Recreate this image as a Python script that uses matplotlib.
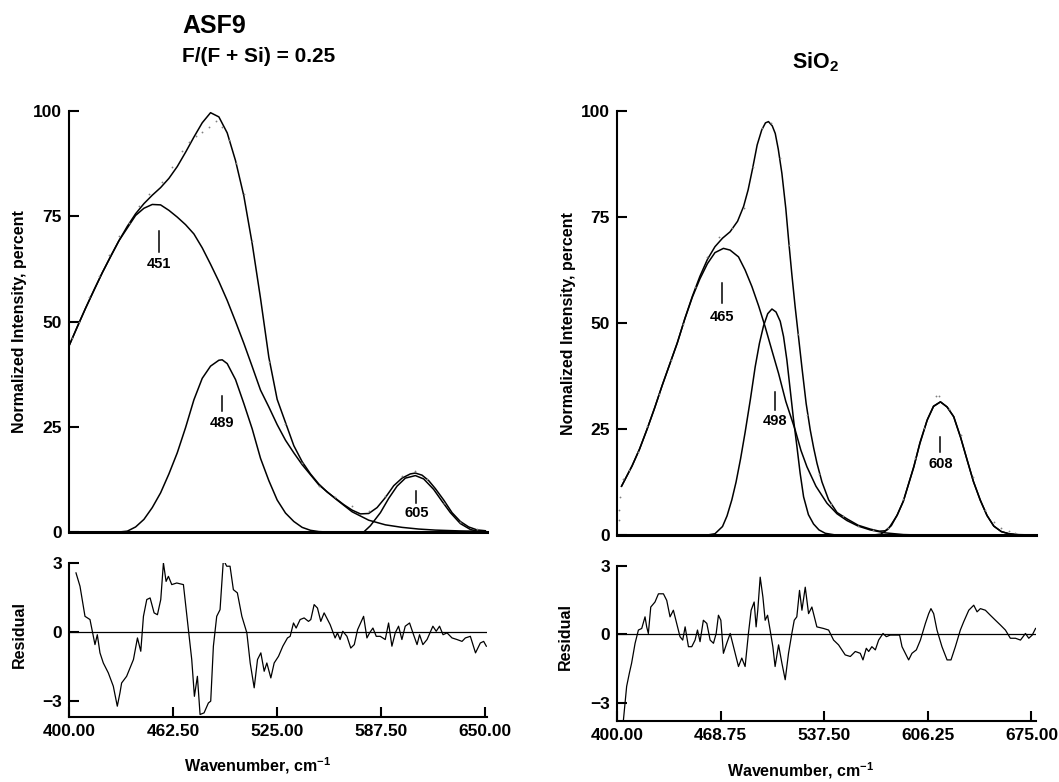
import numpy as np
import matplotlib.pyplot as plt

plt.rcParams['font.family'] = ['Liberation Sans', 'DejaVu Sans']
plt.rcParams['font.weight'] = 'bold'
plt.rcParams['mathtext.fontset'] = 'custom'
plt.rcParams['mathtext.rm'] = 'Liberation Sans:bold'
plt.rcParams['mathtext.it'] = 'Liberation Sans:bold'
plt.rcParams['mathtext.bf'] = 'Liberation Sans:bold'

# ---- ASF9, F/(F+Si) = 0.25 ----
asf_w_fit = [400, 405, 410, 415, 420, 425, 430, 435, 440, 445, 450, 455, 460, 465, 470, 475, 480, 485, 490, 495,
	500, 505, 510, 515, 520, 525, 530, 535, 540, 545, 550, 555, 560, 565, 570, 575, 580, 585, 590, 595,
	600, 605, 608, 612, 616, 620, 625, 630, 635, 640, 645, 650]
asf_fit = [44.2, 48.8, 53.2, 57.5, 61.6, 65.5, 69.2, 72.6, 75.6, 78, 80, 81.8, 84, 86.8, 90.2, 93.8, 97.2, 99.6, 98.6, 94.8,
	88.2, 79.8, 68.5, 55.5, 41.5, 31.5, 26, 20.5, 16.7, 13.8, 11.4, 9.5, 8.0, 6.5, 5.2, 4.3, 4.4, 5.8, 8.2, 11.0,
	12.8, 13.8, 14.0, 13.5, 12.2, 10.3, 7.6, 4.6, 2.5, 1.2, 0.5, 0.3]

asf_w_451 = [400, 410, 420, 430, 440, 445, 450, 455, 460, 465, 470, 475, 480, 485, 490, 495, 500, 505, 510, 515,
	520, 525, 530, 535, 540, 550, 560, 570, 580, 590, 600, 610, 620, 635, 650]
asf_451 = [44.2, 53.2, 61.6, 69.2, 75.2, 76.9, 77.8, 77.7, 76.4, 74.8, 73.0, 70.8, 67.5, 63.6, 59.5, 55.0, 50.0, 44.8, 39.3, 33.7,
	29.7, 25.5, 21.8, 18.8, 16.0, 11.2, 7.9, 4.8, 2.8, 1.7, 1.1, 0.7, 0.45, 0.25, 0.15]

asf_w_489 = [430, 435, 440, 445, 450, 455, 460, 465, 470, 475, 480, 485, 490, 492, 495, 500, 505, 510, 515, 520,
	525, 530, 535, 540, 545, 550, 555, 650]
asf_489 = [0, 0.2, 1.2, 3.0, 5.8, 9.3, 13.8, 18.8, 24.8, 31.4, 36.5, 39.4, 40.8, 40.9, 40.0, 36.2, 30.5, 24.5, 17.5, 12.2,
	7.6, 4.5, 2.5, 1.1, 0.4, 0.1, 0, 0]

asf_w_605 = [400, 572, 577, 581, 587, 592, 597, 602, 608, 613, 619, 624, 629, 635, 641, 645, 650]
asf_605 = [0, 0, 0, 1.5, 4.6, 8.0, 10.9, 12.8, 13.4, 12.6, 10.1, 7.3, 4.6, 2.0, 0.6, 0.2, 0]

asf_w_obs = [402, 406, 412, 418, 424, 430, 436, 442, 448, 456, 462, 468, 472, 476, 480, 484, 488, 492, 496, 500,
	505, 510, 520, 530, 540, 550, 560, 570, 580, 590, 600, 608, 615, 625, 635, 645]
asf_obs = [46, 49.8, 55.8, 60.8, 65.8, 70.4, 73.4, 77.4, 80.3, 83.2, 86.8, 90.4, 92.6, 94, 95, 96.2, 97.6, 96.2, 93.2, 87.6,
	80.3, 69.2, 40.4, 25.6, 16.4, 11, 8.3, 6.1, 4.9, 8.6, 13.4, 14.6, 12.5, 7.0, 2.4, 0.7]

asf_w_res = [404.2, 406.6, 409.6, 412.6, 414.2, 415.6, 417.0, 418.6, 420.6, 423.6, 426.6, 429.0, 430.6, 431.6, 434.6,
	438.7, 441.1, 443.1, 444.7, 446.7, 448.7, 451.1, 453.1, 455.1, 456.7, 458.3, 459.7, 461.7, 464.7, 468.7,
	469.7, 471.7, 473.7, 475.3, 477.1, 478.7, 481.1, 483.7, 485.1, 486.7, 488.7, 490.7, 492.7, 494.7, 496.7,
	498.7, 501.1, 503.8, 506.8, 508.8, 511.2, 513.2, 515.2, 517.2, 518.8, 521.2, 523.2, 525.8, 528.4, 531.2,
	532.8, 534.8, 536.4, 538.8, 541.2, 543.8, 545.2, 547.2, 549.2, 551.2, 553.2, 556.8, 559.8, 561.2, 562.8,
	564.4, 566.9, 569.2, 571.3, 573.3, 576.9, 578.9, 580.5, 582.5, 584.5, 586.9, 589.9, 591.9, 593.9, 595.9,
	597.9, 599.9, 601.9, 604.5, 606.9, 609.0, 610.5, 612.5, 615.0, 618.5, 620.5, 622.5, 624.6, 627.0, 630.0,
	633.0, 636.0, 638.0, 641.0, 644.1, 647.0, 649.0, 650.6]
asf_res = [2.57, 1.99, 0.68, 0.54, -0.04, -0.55, -0.12, -0.91, -1.35, -1.78, -2.36, -3.23, -2.65, -2.22, -1.93,
	-1.20, -0.26, -0.84, 0.68, 1.41, 1.48, 0.83, 0.75, 1.41, 3.0, 2.2, 2.42, 2.06, 2.13, 2.06,
	1.41, 0.1, -1.2, -2.8, -1.93, -3.59, -3.52, -3.09, -3.01, -0.62, 0.68, 0.97, 3.14, 2.86, 2.86,
	1.84, 1.70, 0.68, -0.04, -1.35, -2.43, -1.20, -0.91, -1.71, -1.35, -2.0, -1.35, -1.06, -0.62, -0.26,
	-0.19, 0.39, 0.17, 0.54, 0.61, 0.46, 0.54, 1.19, 1.04, 0.46, 0.83, 0.32, -0.26, -0.04, -0.33,
	0.03, -0.19, -0.70, -0.55, 0.1, 0.68, -0.26, -0.04, 0.17, -0.19, -0.19, -0.33, 0.39, -0.62, -0.04,
	0.25, -0.33, 0.25, 0.39, -0.12, -0.55, -0.12, -0.55, -0.33, 0.25, 0.03, 0.25, -0.12, -0.04, -0.26,
	-0.33, -0.41, -0.26, -0.19, -0.91, -0.48, -0.41, -0.62]
asf_ticks = [400, 462.5, 525, 587.5, 650]

# ---- SiO2 ----
sio_w_fit = [403, 410, 415, 420, 425, 430, 435, 440, 445, 450, 455, 460, 465, 470, 475, 480, 484, 487, 490, 493,
	496, 498.5, 500.5, 503, 505, 507, 509.4, 512, 514, 516, 518.2, 520.5, 522.7, 525.5, 528.2, 530.5, 532.7, 536,
	540.4, 546, 552.6, 560, 568, 574, 578, 582, 586, 590, 593, 597, 601, 606, 610, 614.6, 619, 623.4, 628,
	632.3, 636.5, 641, 645.5, 650, 655, 660, 665, 677]
sio_fit = [11.5, 16.3, 20.3, 25, 30, 35.3, 40.3, 45.3, 51, 56.3, 61, 65, 68, 70, 71.5, 74, 77.5, 81.4, 86.5, 92,
	95.5, 97.2, 97.5, 96.5, 94.7, 91, 85.3, 77, 69, 61.5, 53.8, 46.5, 39.5, 31, 24.8, 20.5, 16.9, 12.5,
	8.3, 5.3, 3.8, 2.3, 1.4, 0.9, 1.0, 2.2, 4.8, 8, 11.5, 16.1, 21.8, 27.3, 30.4, 31.4, 30.2, 27.9, 23,
	17.7, 12.6, 8.2, 4.6, 2.1, 0.8, 0.3, 0.1, 0]

sio_w_465 = [403, 410, 415, 420, 425, 430, 435, 440, 445, 450, 455, 460, 465, 470.6, 475, 480.6, 485, 489.5, 494, 498.3,
	502.8, 507.2, 512, 518.2, 522, 526, 532, 539.3, 546, 552.6, 560, 568, 578, 590, 600]
sio_465 = [11.5, 16.3, 20.3, 25, 30, 35.3, 40.3, 45.3, 51, 56.1, 60.4, 64, 66.6, 67.6, 67.2, 65.6, 62.5, 58.6, 54, 49.1,
	43.5, 38.1, 31.5, 24.8, 20, 16.1, 11.5, 7.5, 5.0, 3.4, 2.1, 1.2, 0.5, 0.1, 0]

sio_w_498 = [400, 460, 465, 470, 473, 476.2, 479, 482, 485, 488.5, 491.7, 494.5, 497.2, 500, 502.8, 505.5, 508.3, 510.5,
	512.7, 515, 517.1, 519.4, 521.5, 523.8, 527, 530.4, 534, 538.2, 545, 677]
sio_498 = [0, 0, 0.3, 2, 4.5, 8.3, 12.5, 18, 24.2, 32, 39.7, 45.2, 49.3, 52.2, 53.3, 52.6, 50.4, 46.8,
	41.3, 34, 27.3, 20.8, 14.6, 9.0, 4.8, 2.6, 1.2, 0.4, 0, 0]

sio_w_608 = [545, 570, 575, 580, 585.8, 590, 593, 596.8, 601, 605.7, 610, 614.6, 619, 623.4, 628, 632.3, 636.5, 641.1,
	645.5, 650, 655, 660, 668, 677]
sio_608 = [0, 0, 0.2, 1.4, 4.6, 8, 11.5, 16, 21.6, 27, 30.3, 31.4, 30.2, 27.9, 23, 17.7, 12.6, 8.2,
	4.6, 2.1, 0.8, 0.3, 0, 0]

sio_w_obs = [401, 401.5, 402, 404, 408, 414, 420, 428, 436, 444, 452, 460, 468, 476, 484, 490, 496, 502, 508, 514,
	520, 526, 534, 542, 550, 560, 570, 580, 590, 598, 604, 611.5, 613.5, 620, 628, 636, 644, 650, 655, 660, 664]
sio_obs = [3.5, 6, 9, 13.2, 15.4, 19.6, 25.6, 33.2, 41.3, 49.8, 58.6, 65.6, 70.3, 72.3, 77.1, 86.9, 95.9, 97.2, 88.8, 68.4,
	47.4, 28.4, 14.5, 7.3, 4.5, 2.1, 1.1, 1.6, 8.4, 18.2, 25.3, 32.8, 32.8, 29.6, 23.6, 13.6, 5.8, 3.0, 1.7, 0.9, 0.4]

sio_w_res = [404.2, 406.4, 408.2, 409.7, 412.0, 414.2, 416.4, 418.6, 419.7, 420.8, 422.4, 425.2, 427.5, 430.8, 433.0,
	435.2, 437.4, 439.6, 441.8, 443.6, 445.2, 447.4, 449.6, 451.8, 453.4, 455.1, 457.3, 459.6, 461.8, 464.0,
	465.8, 467.3, 468.9, 470.6, 472.8, 475.1, 477.3, 480.6, 482.8, 485.0, 487.2, 489.0, 491.0, 492.3, 493.4,
	495.0, 496.8, 498.3, 499.9, 501.6, 503.4, 504.9, 507.2, 509.4, 511.6, 513.8, 516.0, 517.6, 519.3, 521.1,
	522.7, 524.9, 527.1, 529.3, 532.6, 537.0, 540.4, 543.7, 547.0, 551.4, 554.8, 558.1, 561.4, 563.2, 565.4,
	567.0, 569.1, 571.4, 573.6, 576.5, 578.7, 581.3, 584.6, 587.5, 589.1, 591.3, 593.5, 595.7, 598.6, 601.3,
	604.6, 606.8, 608.3, 610.1, 612.3, 615.6, 619.0, 621.6, 624.5, 627.8, 630.0, 633.4, 636.7, 638.9, 641.1,
	644.4, 647.7, 651.1, 654.4, 657.7, 661.0, 664.4, 667.7, 671.0, 673.2, 675.5, 677.7]
sio_res = [-3.8, -2.28, -1.70, -1.26, -0.39, 0.19, 0.26, 0.77, 0.33, 0.04, 1.20, 1.42, 1.78, 1.78, 1.49,
	0.77, 1.06, 0.48, -0.10, -0.25, 0.33, -0.54, -0.54, -0.25, 0.19, -0.32, 0.62, 0.48, -0.25, -0.39,
	0.04, 0.84, 0.62, -0.83, -0.39, 0.04, -0.54, -1.41, -1.04, -1.41, 0.04, 1.06, 1.42, 0.33, 1.06,
	2.51, 1.64, 0.62, 0.84, 0.19, -0.54, -1.41, -0.46, -1.26, -1.99, -0.83, 0.04, 0.62, 0.77, 1.93,
	1.06, 2.07, 0.91, 1.20, 0.33, 0.26, 0.19, -0.25, -0.46, -0.90, -0.97, -0.75, -0.83, -1.12, -0.61,
	-0.75, -0.54, -0.68, -0.25, 0.04, -0.10, -0.03, -0.03, -0.03, -0.54, -0.83, -1.12, -0.83, -0.68, -0.25,
	0.48, 0.91, 1.13, 0.91, 0.19, -0.54, -1.12, -1.12, -0.54, 0.19, 0.55, 1.06, 1.28, 0.99, 1.13,
	1.06, 0.84, 0.62, 0.41, 0.19, -0.17, -0.17, -0.25, 0.04, -0.17, -0.03, 0.26]
sio_ticks = [400, 468.75, 537.5, 606.25, 675]


def style_axis(ax, lw=1.5):
	for s in ['top', 'right']:
		ax.spines[s].set_visible(False)
	ax.spines['left'].set_linewidth(lw)
	ax.spines['bottom'].set_linewidth(lw)
	ax.tick_params(direction='in', length=7, width=lw, labelsize=12.5, pad=5)


def main_panel(ax, xlim, curves, w_obs, obs, peaks):
	for w, v in curves:
		ax.plot(w, v, 'k-', lw=1.1)
	ax.plot(w_obs, obs, 'o', ms=1.3, color='0.5', mec='none')
	for x, y1, y2, yt, txt in peaks:
		ax.plot([x, x], [y1, y2], 'k-', lw=1.1)
		ax.text(x, yt, txt, ha='center', va='center', fontsize=10.5, fontweight='bold')
	ax.set_xlim(xlim)
	ax.set_ylim(0, 100)
	style_axis(ax)
	ax.spines['bottom'].set_linewidth(2.2)
	ax.set_yticks([0, 25, 50, 75, 100])
	ax.set_xticks([])


def res_panel(ax, xlim, ylim, w, r, ticks):
	ax.plot(w, r, 'k-', lw=0.9)
	ax.axhline(0, color='k', lw=0.9)
	ax.set_xlim(xlim)
	ax.set_ylim(ylim)
	style_axis(ax)
	ax.set_yticks([-3, 0, 3])
	ax.set_xticks(ticks)
	ax.set_xticklabels(['%.2f' % t for t in ticks])


fig = plt.figure(figsize=(10.59, 7.82), dpi=100)
W, H = 1059.0, 782.0

ax1 = fig.add_axes([69 / W, 1 - 532 / H, 418 / W, 421 / H])
main_panel(ax1, (400, 651), [(asf_w_fit, asf_fit), (asf_w_451, asf_451), (asf_w_489, asf_489), (asf_w_605, asf_605)],
	asf_w_obs, asf_obs,
	[(454, 71.4, 66.6, 63.6, '451'), (492, 32.2, 28.7, 25.8, '489'), (608.6, 9.8, 7.0, 4.6, '605')])
ax2 = fig.add_axes([69 / W, 1 - 717 / H, 418 / W, 154 / H])
res_panel(ax2, (400, 651), (-3.7, 3.0), asf_w_res, asf_res, asf_ticks)

ax3 = fig.add_axes([617 / W, 1 - 535 / H, 419 / W, 424 / H])
main_panel(ax3, (400, 678), [(sio_w_fit, sio_fit), (sio_w_465, sio_465), (sio_w_498, sio_498), (sio_w_608, sio_608)],
	sio_w_obs, sio_obs,
	[(469.5, 59.4, 54.6, 51.4, '465'), (505, 33.8, 29.5, 27.0, '498'), (614.6, 23.2, 19.6, 16.8, '608')])
ax4 = fig.add_axes([617 / W, 1 - 721 / H, 419 / W, 155 / H])
res_panel(ax4, (400, 678), (-3.8, 3.0), sio_w_res, sio_res, sio_ticks)

fig.text(182 / W, 1 - 33 / H, 'ASF9', fontsize=18, fontweight='bold', ha='left', va='baseline')
fig.text(182 / W, 1 - 62 / H, 'F/(F + Si) = 0.25', fontsize=15, fontweight='bold', ha='left', va='baseline')
fig.text(815 / W, 1 - 68 / H, r'SiO$_2$', fontsize=15.5, fontweight='bold', ha='center', va='baseline')

fig.text(20 / W, 1 - 322 / H, 'Normalized Intensity, percent', rotation=90, fontsize=11.5, fontweight='bold', ha='center', va='center')
fig.text(568 / W, 1 - 324 / H, 'Normalized Intensity, percent', rotation=90, fontsize=11.5, fontweight='bold', ha='center', va='center')
fig.text(19 / W, 1 - 635 / H, 'Residual', rotation=90, fontsize=11.5, fontweight='bold', ha='center', va='center')
fig.text(565 / W, 1 - 637 / H, 'Residual', rotation=90, fontsize=11.5, fontweight='bold', ha='center', va='center')
fig.text(258 / W, 1 - 766 / H, r'Wavenumber, cm$^{-1}$', fontsize=11.5, fontweight='bold', ha='center', va='center')
fig.text(801 / W, 1 - 771 / H, r'Wavenumber, cm$^{-1}$', fontsize=11.5, fontweight='bold', ha='center', va='center')

plt.savefig('out.png', dpi=100)
